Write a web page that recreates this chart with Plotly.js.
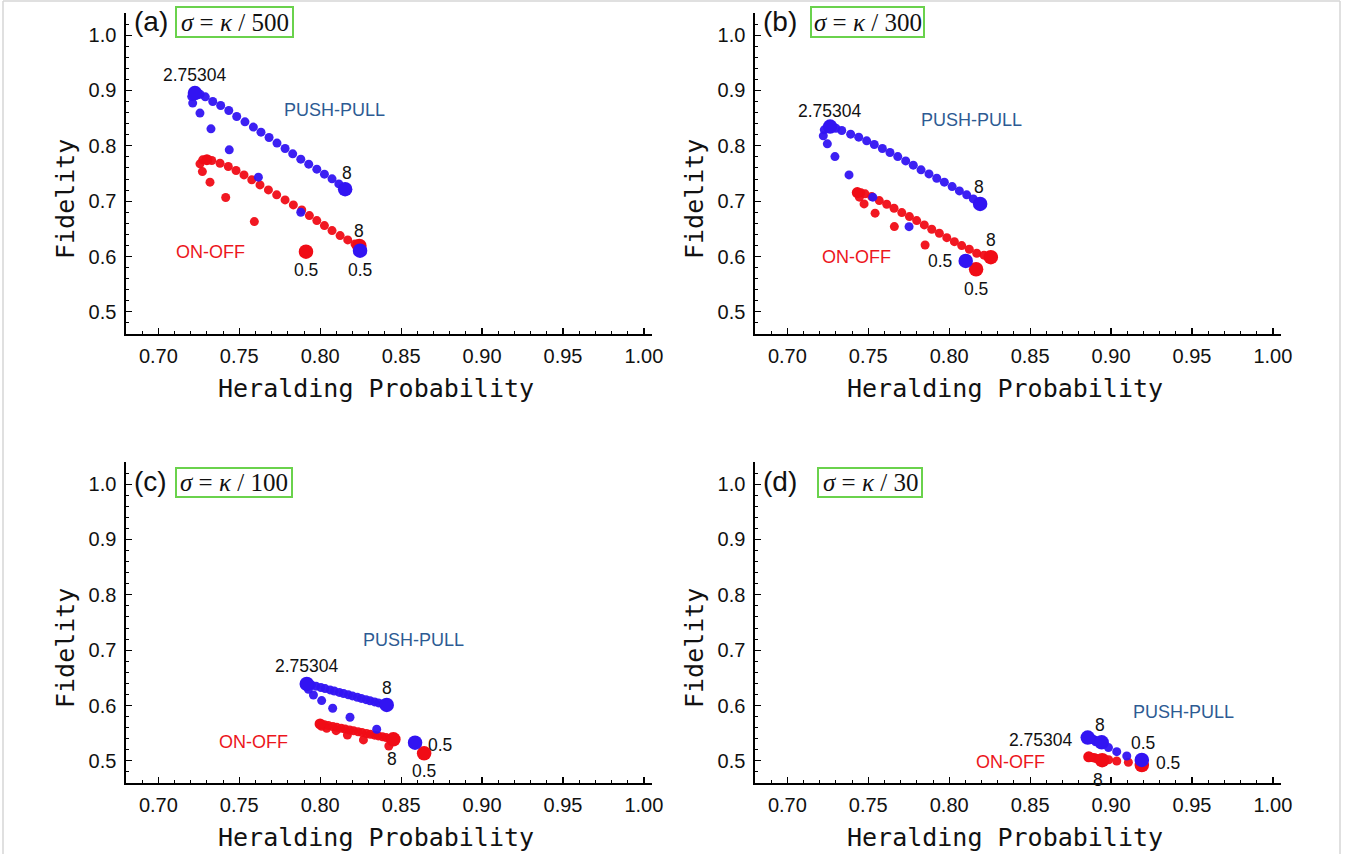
<!DOCTYPE html>
<html><head><meta charset="utf-8">
<script src="https://cdn.plot.ly/plotly-3.0.1.min.js"></script>
<style>html,body{margin:0;padding:0;background:#fff;} #chart{width:1346px;height:854px;}</style>
</head><body><div id="chart"></div>
<script>
// ---------------- DATA (parameter runs 0.5 -> 2.75304 -> 8) ----------------
// (a) sigma = kappa/500
const a_pp_x = [0.8246,0.7880,0.7618,0.7438,0.7325,0.7257,0.7212,0.7206,0.7226,0.7258,0.7290,0.7336,0.7385,0.7435,0.7484,0.7535,0.7587,0.7634,0.7684,0.7733,0.7783,0.7830,0.7880,0.7929,0.7979,0.8026,0.8073,0.8115,0.8154];
const a_pp_y = [0.6106,0.6800,0.7434,0.7927,0.8307,0.8591,0.8772,0.8890,0.8953,0.8930,0.8885,0.8801,0.8729,0.8638,0.8530,0.8434,0.8338,0.8247,0.8150,0.8049,0.7951,0.7855,0.7759,0.7669,0.7578,0.7488,0.7403,0.7312,0.7217];
const a_oo_x = [0.7912,0.7593,0.7416,0.7319,0.7272,0.7257,0.7274,0.7300,0.7330,0.7381,0.7432,0.7480,0.7529,0.7577,0.7628,0.7680,0.7731,0.7783,0.7834,0.7886,0.7933,0.7979,0.8026,0.8073,0.8123,0.8170,0.8215,0.8242];
const a_oo_y = [0.6088,0.6631,0.7066,0.7343,0.7535,0.7674,0.7747,0.7750,0.7734,0.7686,0.7626,0.7554,0.7475,0.7385,0.7294,0.7204,0.7114,0.7023,0.6933,0.6842,0.6740,0.6649,0.6559,0.6468,0.6378,0.6300,0.6227,0.6191];
// (b) sigma = kappa/300
const b_pp_x = [0.8102,0.7752,0.7528,0.7381,0.7294,0.7247,0.7222,0.7228,0.7264,0.7300,0.7336,0.7391,0.7441,0.7490,0.7537,0.7587,0.7634,0.7682,0.7731,0.7778,0.7826,0.7875,0.7923,0.7970,0.8018,0.8063,0.8108,0.8149,0.8191];
const b_pp_y = [0.5920,0.6540,0.7072,0.7475,0.7806,0.8036,0.8180,0.8289,0.8349,0.8318,0.8277,0.8211,0.8156,0.8090,0.8024,0.7951,0.7879,0.7806,0.7728,0.7651,0.7566,0.7493,0.7415,0.7343,0.7264,0.7186,0.7114,0.7041,0.6951];
const b_oo_x = [0.8166,0.7851,0.7661,0.7542,0.7474,0.7445,0.7432,0.7455,0.7480,0.7521,0.7568,0.7614,0.7659,0.7707,0.7754,0.7799,0.7846,0.7892,0.7939,0.7985,0.8032,0.8077,0.8124,0.8170,0.8215,0.8257];
const b_oo_y = [0.5770,0.6209,0.6541,0.6783,0.6951,0.7072,0.7156,0.7150,0.7132,0.7083,0.7011,0.6945,0.6873,0.6794,0.6721,0.6649,0.6571,0.6493,0.6421,0.6341,0.6269,0.6197,0.6131,0.6059,0.6025,0.5987];
// (c) sigma = kappa/100
const c_pp_x = [0.8586,0.8349,0.8184,0.8077,0.8009,0.7958,0.7927,0.7912,0.7917,0.7946,0.7974,0.8004,0.8030,0.8061,0.8087,0.8118,0.8144,0.8174,0.8199,0.8229,0.8254,0.8283,0.8308,0.8336,0.8360,0.8387,0.8411];
const c_pp_y = [0.5329,0.5571,0.5788,0.5950,0.6089,0.6191,0.6294,0.6350,0.6390,0.6370,0.6350,0.6326,0.6306,0.6282,0.6262,0.6237,0.6217,0.6193,0.6173,0.6149,0.6129,0.6106,0.6087,0.6065,0.6047,0.6027,0.6010];
const c_oo_x = [0.8642,0.8424,0.8267,0.8168,0.8098,0.8040,0.8009,0.7999,0.8026,0.8050,0.8078,0.8102,0.8130,0.8154,0.8182,0.8206,0.8234,0.8258,0.8286,0.8309,0.8336,0.8359,0.8385,0.8407,0.8432,0.8452];
const c_oo_y = [0.5136,0.5269,0.5378,0.5468,0.5546,0.5589,0.5625,0.5667,0.5652,0.5639,0.5621,0.5608,0.5590,0.5576,0.5558,0.5544,0.5526,0.5512,0.5494,0.5481,0.5464,0.5451,0.5434,0.5421,0.5404,0.5390];
// (d) sigma = kappa/30
const d_pp_x = [0.9190,0.9097,0.9035,0.8984,0.8940,0.8905,0.8878,0.8862,0.8856,0.8866,0.8876,0.8886,0.8895,0.8904,0.8913,0.8922,0.8932,0.8942];
const d_pp_y = [0.5016,0.5088,0.5166,0.5240,0.5300,0.5345,0.5385,0.5408,0.5420,0.5410,0.5400,0.5390,0.5380,0.5370,0.5360,0.5350,0.5342,0.5336];
const d_oo_x = [0.9190,0.9107,0.9035,0.8985,0.8940,0.8900,0.8875,0.8862,0.8872,0.8884,0.8896,0.8907,0.8918,0.8928,0.8937,0.8945];
const d_oo_y = [0.4925,0.4974,0.4998,0.5020,0.5040,0.5055,0.5066,0.5074,0.5068,0.5060,0.5052,0.5044,0.5036,0.5028,0.5020,0.5012];

const panelLetters = ['(a)','(b)','(c)','(d)'];
const sigmaDenoms = ['500','300','100','30'];
const xTickLabels = ['0.70','0.75','0.80','0.85','0.90','0.95','1.00'];
const yTickLabels = ['0.5','0.6','0.7','0.8','0.9','1.0'];
const xTitle = 'Heralding Probability';
const yTitle = 'Fidelity';
const paramLabels = {start:'0.5', peak:'2.75304', end:'8'};
const seriesNames = {pp:'PUSH-PULL', oo:'ON-OFF'};

// ---------------- LAYOUT / STYLE ----------------
const W = 1346, H = 854;
const BLUE = 'rgb(50,20,242)', RED = 'rgb(240,12,22)';
const SANS = 'Liberation Sans, Arial, Helvetica, sans-serif';
const MONO = 'DejaVu Sans Mono, monospace';
const SERIF = 'Liberation Serif, Times New Roman, serif';

const panels = [
  {l:126, r:652, t:13, b:334, pp:[a_pp_x,a_pp_y], oo:[a_oo_x,a_oo_y], box:[176,7,293,37], letterY:21,
   lab:{peak:[0,18], ppEnd:[2,16], ooEnd:[0,15], ppStart:[0,-19], ooStart:[0,-18]},
   ppText:[0.809,0.865], ooText:[0.7319,0.609]},
  {l:755, r:1281, t:13, b:334, pp:[b_pp_x,b_pp_y], oo:[b_oo_x,b_oo_y], box:[811,7,924,37], letterY:21,
   lab:{peak:[0,16], ppEnd:[-1,17], ooEnd:[0,17], ppStart:[-26,0], ooStart:[0,-20]},
   ppText:[0.814,0.847], ooText:[0.7428,0.5998]},
  {l:126, r:652, t:462, b:783, pp:[c_pp_x,c_pp_y], oo:[c_oo_x,c_oo_y], box:[176,468,292,497], letterY:482,
   lab:{peak:[0,18], ppEnd:[0,17], ooEnd:[-1,-20], ppStart:[25,-2], ooStart:[0,-18]},
   ppText:[0.8574,0.7186], ooText:[0.7585,0.5341]},
  {l:755, r:1281, t:462, b:783, pp:[d_pp_x,d_pp_y], oo:[d_oo_x,d_oo_y], box:[818,468,922,497], letterY:482,
   lab:{peak:[-47,-2], ppEnd:[-2,17], ooEnd:[-4,-20], ppStart:[1,17], ooStart:[26,2]},
   ppText:[0.9445,0.5884], ooText:[0.8376,0.498]}
];

const data = [];
const layout = {
  width: W, height: H, margin:{l:0,r:0,t:0,b:0}, showlegend:false,
  paper_bgcolor:'#fff', plot_bgcolor:'rgba(0,0,0,0)',
  annotations: [], shapes: []
};

function peakIndex(ys){ let k=0; ys.forEach((v,i)=>{ if(v>ys[k]) k=i; }); return k; }

panels.forEach((p, i) => {
  const s = i === 0 ? '' : String(i+1);
  const xa = 'x'+s, ya = 'y'+s;
  layout['xaxis'+s] = {
    domain:[p.l/W, p.r/W], anchor: ya, range:[0.68,1.005],
    tickmode:'array', tickvals: xTickLabels.map(Number), ticktext: xTickLabels,
    ticks:'inside', ticklen:6, tickwidth:1.2, tickcolor:'#000',
    minor:{dtick:0.01, tick0:0.68, ticks:'inside', ticklen:3, tickwidth:1, tickcolor:'#000', showgrid:false},
    showline:true, linecolor:'#000', linewidth:1.6, showgrid:false, zeroline:false,
    tickfont:{family:SANS, size:20, color:'#111'}, ticklabelstandoff:3, fixedrange:true
  };
  layout['yaxis'+s] = {
    domain:[1-p.b/H, 1-p.t/H], anchor: xa, range:[0.46,1.04],
    tickmode:'array', tickvals: yTickLabels.map(Number), ticktext: yTickLabels,
    ticks:'inside', ticklen:6, tickwidth:1.2, tickcolor:'#000',
    minor:{dtick:0.02, tick0:0.46, ticks:'inside', ticklen:3, tickwidth:1, tickcolor:'#000', showgrid:false},
    showline:true, linecolor:'#000', linewidth:1.6, showgrid:false, zeroline:false,
    tickfont:{family:SANS, size:20, color:'#111'}, ticklabelstandoff:4, fixedrange:true
  };

  const [ox, oy] = p.oo, [bx, by] = p.pp;
  const on = ox.length-1, bn = bx.length-1;
  const pkO = peakIndex(oy), pkB = peakIndex(by);

  // ON-OFF (red) drawn below PUSH-PULL (blue)
  data.push({type:'scatter', mode:'markers', x:ox, y:oy, xaxis:xa, yaxis:ya, hoverinfo:'skip',
    marker:{color:RED, size:9, opacity:0.95, line:{width:0}}});
  data.push({type:'scatter', mode:'markers', x:[ox[pkO]], y:[oy[pkO]], xaxis:xa, yaxis:ya, hoverinfo:'skip',
    marker:{color:RED, size:11, line:{width:0}}});
  data.push({type:'scatter', mode:'markers', x:[ox[0], ox[on]], y:[oy[0], oy[on]], xaxis:xa, yaxis:ya, hoverinfo:'skip',
    marker:{color:RED, size:14.5, line:{width:0}}});
  data.push({type:'scatter', mode:'markers', x:bx, y:by, xaxis:xa, yaxis:ya, hoverinfo:'skip',
    marker:{color:BLUE, size:9, opacity:0.95, line:{width:0}}});
  data.push({type:'scatter', mode:'markers', x:[bx[0], bx[pkB], bx[bn]], y:[by[0], by[pkB], by[bn]], xaxis:xa, yaxis:ya, hoverinfo:'skip',
    marker:{color:BLUE, size:14.5, line:{width:0}}});

  const lab = (txt, x, y, sh) => ({text:txt, x, y, xref:xa, yref:ya, showarrow:false,
    xshift:sh[0], yshift:sh[1], font:{family:SANS, size:17.5, color:'#111'}});
  layout.annotations.push(lab(paramLabels.peak, bx[pkB], by[pkB], p.lab.peak));
  layout.annotations.push(lab(paramLabels.end, bx[bn], by[bn], p.lab.ppEnd));
  layout.annotations.push(lab(paramLabels.end, ox[on], oy[on], p.lab.ooEnd));
  layout.annotations.push(lab(paramLabels.start, bx[0], by[0], p.lab.ppStart));
  layout.annotations.push(lab(paramLabels.start, ox[0], oy[0], p.lab.ooStart));
  layout.annotations.push({text:seriesNames.pp, x:p.ppText[0], y:p.ppText[1], xref:xa, yref:ya, showarrow:false,
    font:{family:SANS, size:18, color:'#2d5b93'}});
  layout.annotations.push({text:seriesNames.oo, x:p.ooText[0], y:p.ooText[1], xref:xa, yref:ya, showarrow:false,
    font:{family:SANS, size:18, color:'rgb(236,22,28)'}});

  // panel letter and sigma box
  layout.annotations.push({text:panelLetters[i], xref:'paper', yref:'paper', x:(p.l+6)/W, y:1-p.letterY/H,
    xanchor:'left', yanchor:'middle', showarrow:false, font:{family:SANS, size:28, color:'#111'}});
  const [bl, bt, br, bb] = p.box;
  layout.shapes.push({type:'rect', xref:'paper', yref:'paper', x0:bl/W, x1:br/W, y0:1-bb/H, y1:1-bt/H,
    line:{color:'#6ad24c', width:2}, fillcolor:'rgba(0,0,0,0)'});
  layout.annotations.push({text:'<i>σ</i> = <i>κ</i> / '+sigmaDenoms[i], xref:'paper', yref:'paper',
    x:(bl+br)/2/W, y:1-(bt+bb)/2/H, xanchor:'center', yanchor:'middle', showarrow:false,
    font:{family:SERIF, size:25, color:'#111'}});
  // axis titles
  layout.annotations.push({text:xTitle, xref:'paper', yref:'paper', x:((p.l+p.r)/2-13)/W, y:1-(p.b+54)/H,
    xanchor:'center', yanchor:'middle', showarrow:false, font:{family:MONO, size:25, color:'#111'}});
  layout.annotations.push({text:yTitle, xref:'paper', yref:'paper', x:(p.l-61)/W, y:1-(p.t+186)/H,
    xanchor:'center', yanchor:'middle', textangle:-90, showarrow:false, font:{family:MONO, size:25, color:'#111'}});
});

// light grey frame
const fr = {type:'line', xref:'paper', yref:'paper', line:{color:'#d6d6d6', width:1.5}};
layout.shapes.push(Object.assign({}, fr, {x0:3/W, x1:3/W, y0:0, y1:1-1/H}));
layout.shapes.push(Object.assign({}, fr, {x0:3/W, x1:1340/W, y0:1-1/H, y1:1-1/H}));
layout.shapes.push(Object.assign({}, fr, {x0:1340/W, x1:1340/W, y0:0, y1:1-1/H}));

Plotly.newPlot('chart', data, layout, {staticPlot:true, displayModeBar:false});
</script></body></html>
